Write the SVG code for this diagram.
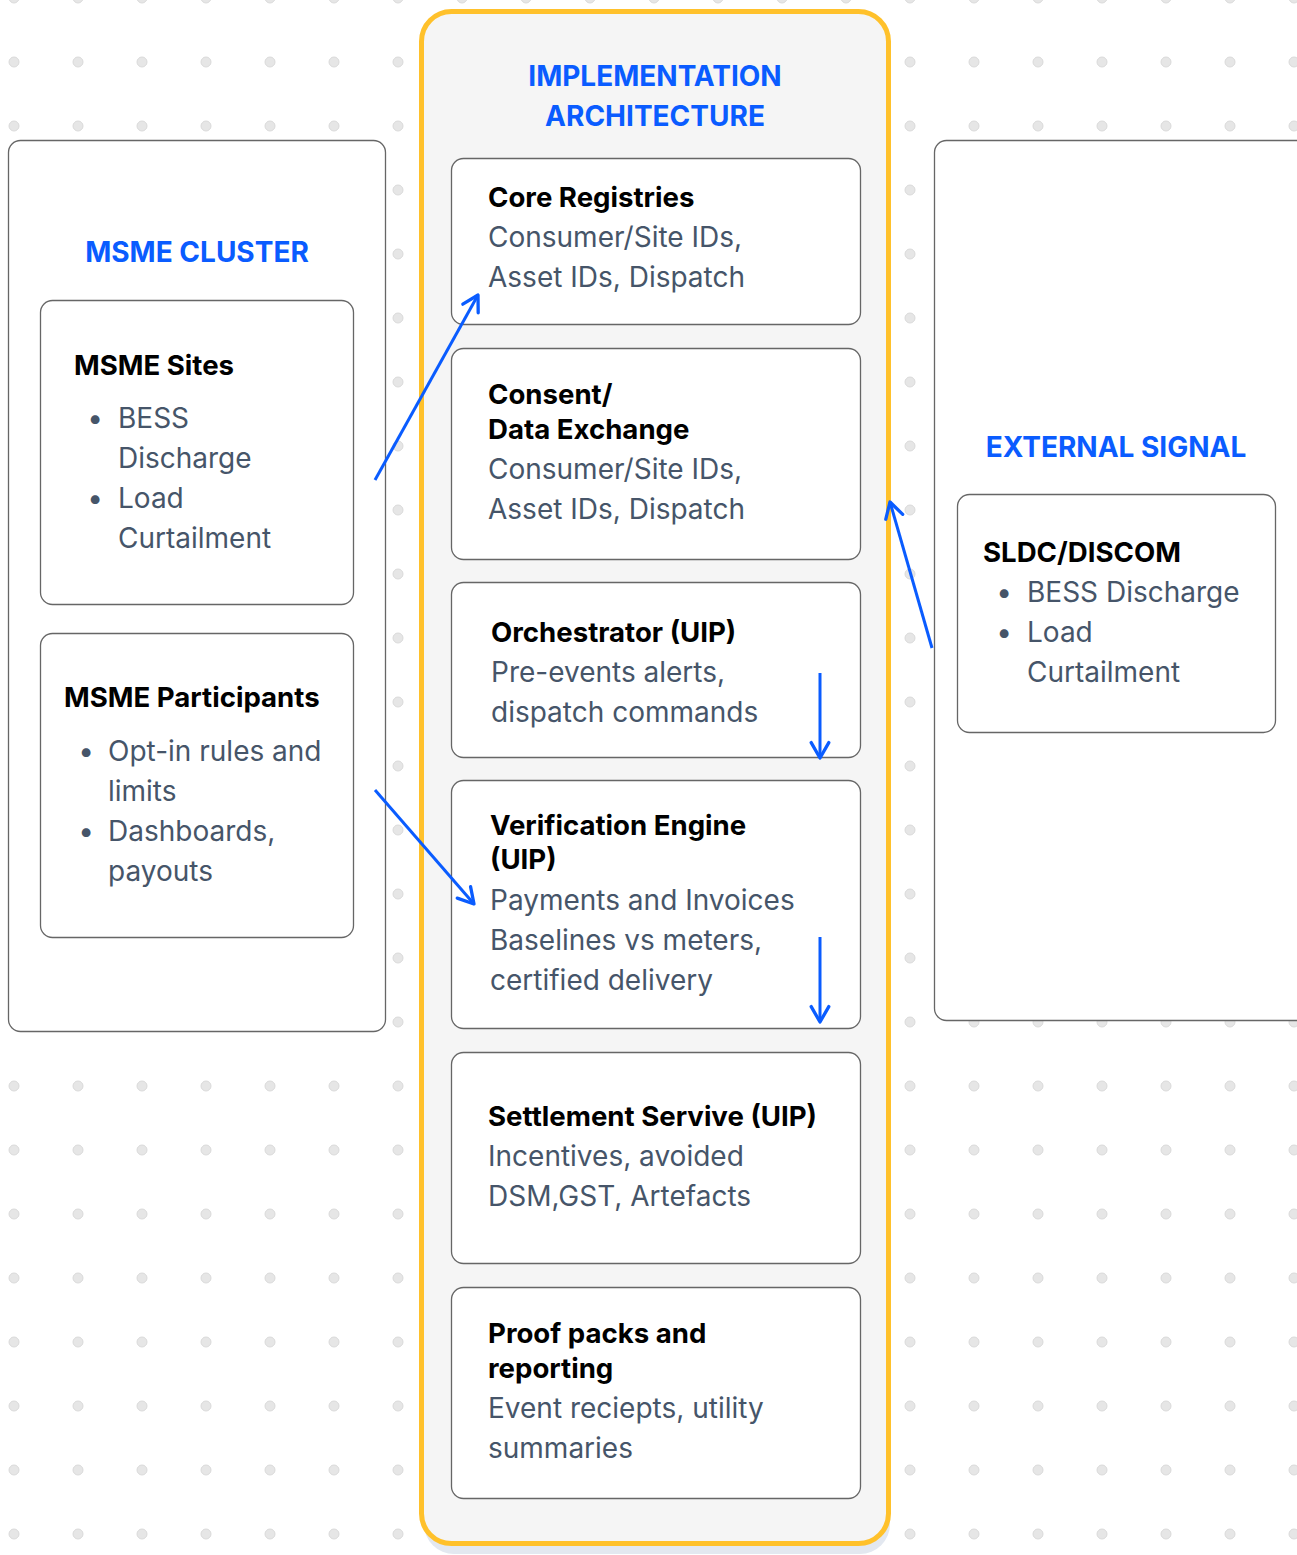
<svg xmlns="http://www.w3.org/2000/svg" width="1297" height="1555" viewBox="0 0 1297 1555">
<defs>
<pattern id="dots" x="-18" y="-34" width="64" height="64" patternUnits="userSpaceOnUse">
<circle cx="32" cy="32" r="5" fill="#e6e6e6" stroke="#d9d9d9" stroke-width="1"/>
</pattern>
<marker id="arr" viewBox="0 0 20 20" refX="18" refY="10" markerWidth="22" markerHeight="22" markerUnits="userSpaceOnUse" orient="auto">
<path d="M4,2 L18,10 L4,18" fill="none" stroke="#0A5CFF" stroke-width="3" stroke-linecap="round" stroke-linejoin="round"/>
</marker>
<style>
.box{fill:#fff;stroke:#666;stroke-width:1.3}
.head{font-family:Inter,"Liberation Sans",sans-serif;font-weight:700;font-size:28px;fill:#0A5CFF}
.ttl{font-family:Inter,"Liberation Sans",sans-serif;font-weight:700;font-size:27.6px;fill:#000}
.body{font-family:Inter,"Liberation Sans",sans-serif;font-weight:400;font-size:28px;fill:#465569}
.con{fill:none;stroke:#0A5CFF;stroke-width:3;marker-end:url(#arr)}
</style>
</defs>
<rect width="1297" height="1555" fill="#fff"/>
<rect width="1297" height="1555" fill="url(#dots)"/>

<g id="msme-cluster">
<rect class="box" x="8.5" y="140.5" width="377" height="891" rx="12"/>
<text class="head" x="197" y="262" text-anchor="middle">MSME CLUSTER</text>
</g>
<g id="msme-sites">
<rect class="box" x="40.5" y="300.5" width="313" height="304" rx="12"/>
<text class="ttl" x="74" y="375">MSME Sites</text>
<text class="body" x="95" y="428" text-anchor="middle">•</text>
<text class="body" x="118" y="428">BESS</text>
<text class="body" x="118" y="468">Discharge</text>
<text class="body" x="95" y="508" text-anchor="middle">•</text>
<text class="body" x="118" y="508">Load</text>
<text class="body" x="118" y="548">Curtailment</text>
</g>
<g id="msme-participants">
<rect class="box" x="40.5" y="633.5" width="313" height="304" rx="12"/>
<text class="ttl" x="64" y="707">MSME Participants</text>
<text class="body" x="86" y="761" text-anchor="middle">•</text>
<text class="body" x="108" y="761">Opt-in rules and</text>
<text class="body" x="108" y="801">limits</text>
<text class="body" x="86" y="841" text-anchor="middle">•</text>
<text class="body" x="108" y="841">Dashboards,</text>
<text class="body" x="108" y="881">payouts</text>
</g>

<g id="external-signal">
<rect class="box" x="934.5" y="140.5" width="380" height="880" rx="12"/>
<text class="head" x="1116" y="457" text-anchor="middle">EXTERNAL SIGNAL</text>
</g>
<g id="sldc-discom">
<rect class="box" x="957.5" y="494.5" width="318" height="238" rx="12"/>
<text class="ttl" x="983" y="562">SLDC/DISCOM</text>
<text class="body" x="1004" y="602" text-anchor="middle">•</text>
<text class="body" x="1027" y="602">BESS Discharge</text>
<text class="body" x="1004" y="642" text-anchor="middle">•</text>
<text class="body" x="1027" y="642">Load</text>
<text class="body" x="1027" y="682">Curtailment</text>
</g>

<g id="implementation-architecture">
<rect x="424" y="22" width="466" height="1532" rx="30" fill="#e3e8f0"/>
<rect x="421.5" y="11.5" width="467" height="1532" rx="30" fill="#f5f5f5" stroke="#FFC12B" stroke-width="5"/>
<text class="head" x="655" y="86" text-anchor="middle">IMPLEMENTATION</text>
<text class="head" x="655" y="126" text-anchor="middle">ARCHITECTURE</text>
</g>
<g id="core-registries">
<rect class="box" x="451.5" y="158.5" width="409" height="166" rx="12"/>
<text class="ttl" x="488" y="207">Core Registries</text>
<text class="body" x="488" y="247">Consumer/Site IDs,</text>
<text class="body" x="488" y="287">Asset IDs, Dispatch</text>
</g>
<g id="consent-data-exchange">
<rect class="box" x="451.5" y="348.5" width="409" height="211" rx="12"/>
<text class="ttl" x="488" y="404">Consent/</text>
<text class="ttl" x="488" y="439">Data Exchange</text>
<text class="body" x="488" y="479">Consumer/Site IDs,</text>
<text class="body" x="488" y="519">Asset IDs, Dispatch</text>
</g>
<g id="orchestrator">
<rect class="box" x="451.5" y="582.5" width="409" height="175" rx="12"/>
<text class="ttl" x="491" y="642">Orchestrator (UIP)</text>
<text class="body" x="491" y="682">Pre-events alerts,</text>
<text class="body" x="491" y="722">dispatch commands</text>
</g>
<g id="verification-engine">
<rect class="box" x="451.5" y="780.5" width="409" height="248" rx="12"/>
<text class="ttl" x="490" y="835">Verification Engine</text>
<text class="ttl" x="490" y="869">(UIP)</text>
<text class="body" x="490" y="910">Payments and Invoices</text>
<text class="body" x="490" y="950">Baselines vs meters,</text>
<text class="body" x="490" y="990">certified delivery</text>
</g>
<g id="settlement-service">
<rect class="box" x="451.5" y="1052.5" width="409" height="211" rx="12"/>
<text class="ttl" x="488" y="1126">Settlement Servive (UIP)</text>
<text class="body" x="488" y="1166">Incentives, avoided</text>
<text class="body" x="488" y="1206">DSM,GST, Artefacts</text>
</g>
<g id="proof-packs">
<rect class="box" x="451.5" y="1287.5" width="409" height="211" rx="12"/>
<text class="ttl" x="488" y="1343">Proof packs and</text>
<text class="ttl" x="488" y="1378">reporting</text>
<text class="body" x="488" y="1418">Event reciepts, utility</text>
<text class="body" x="488" y="1458">summaries</text>
</g>

<g id="connectors">
<line class="con" x1="375" y1="480" x2="478" y2="295"/>
<line class="con" x1="375" y1="790" x2="474" y2="904"/>
<line class="con" x1="932" y1="648" x2="890" y2="502"/>
<line class="con" x1="820" y1="673" x2="820" y2="758"/>
<line class="con" x1="820" y1="937" x2="820" y2="1022"/>
</g>
</svg>
